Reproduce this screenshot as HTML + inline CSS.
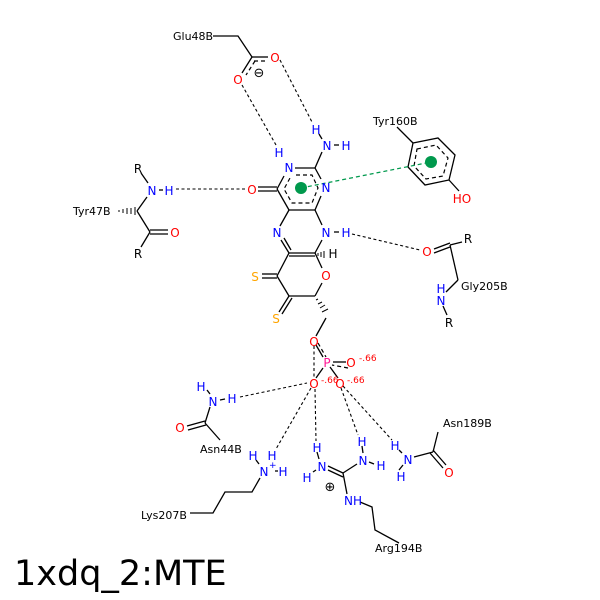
<!DOCTYPE html>
<html><head><meta charset="utf-8"><style>body{margin:0;background:#fff}svg{display:block}</style></head><body>
<svg width="600" height="600" viewBox="0 0 600 600" xmlns="http://www.w3.org/2000/svg" font-family="DejaVu Sans, Liberation Sans, sans-serif">
<rect width="600" height="600" fill="#fff"/>
<g stroke="#000" stroke-width="1.3" fill="none">
<line x1="277" y1="189" x2="284" y2="176"/>
<line x1="295" y1="168" x2="315" y2="168"/>
<line x1="315" y1="168" x2="321" y2="179"/>
<line x1="321" y1="196" x2="315" y2="210"/>
<line x1="289" y1="210" x2="315" y2="210"/>
<line x1="277" y1="189" x2="289" y2="210"/>
<line x1="258" y1="187" x2="277" y2="187"/><line x1="258" y1="191" x2="277" y2="191"/>
<line x1="315" y1="168" x2="322" y2="152"/>
<line x1="289" y1="210" x2="280" y2="226"/>
<line x1="315" y1="210" x2="322" y2="225"/>
<line x1="281" y1="240" x2="289" y2="253"/><line x1="284" y1="238" x2="291" y2="250"/>
<line x1="322" y1="240" x2="315" y2="253"/>
<line x1="289" y1="253" x2="315" y2="253"/><line x1="289" y1="256" x2="315" y2="256"/>
<line x1="289" y1="253" x2="277" y2="276"/>
<line x1="315" y1="253" x2="322" y2="268"/>
<line x1="262" y1="274" x2="277" y2="274"/><line x1="262" y1="278" x2="277" y2="278"/>
<line x1="277" y1="276" x2="289" y2="296"/>
<line x1="322" y1="283" x2="315" y2="296"/>
<line x1="289" y1="296" x2="315" y2="296"/>
<line x1="289" y1="296" x2="279" y2="312"/><line x1="292" y1="298" x2="282" y2="314"/>
<line x1="326" y1="318" x2="316" y2="336"/>
<line x1="316" y1="345" x2="323" y2="357"/>
<line x1="333" y1="362" x2="346" y2="362"/>
<line x1="323" y1="368" x2="316" y2="378"/>
<line x1="330" y1="367" x2="338" y2="378"/>
<line x1="334" y1="145" x2="339" y2="145"/>
<line x1="319" y1="134" x2="322" y2="139"/>
<line x1="334" y1="232" x2="339" y2="232"/>
<line x1="159" y1="190" x2="163" y2="190"/>
<line x1="220" y1="400" x2="225" y2="399"/>
<line x1="369" y1="462" x2="374" y2="464"/>
<line x1="313" y1="472" x2="316" y2="470"/>
<line x1="399" y1="450" x2="402" y2="453"/>
<line x1="207" y1="390" x2="210" y2="394"/>
<line x1="256" y1="460" x2="259" y2="464"/>
<line x1="275" y1="471" x2="278" y2="471"/>
<line x1="317" y1="452" x2="319" y2="459"/>
<line x1="362" y1="446" x2="363" y2="453"/>
<line x1="399" y1="470" x2="403" y2="465"/>
<line x1="397" y1="127" x2="413" y2="143"/>
<polygon points="413,143 438,138 455,155 449,180 425,185 408,167"/>
<line x1="449" y1="180" x2="459" y2="191"/>
<line x1="434" y1="249" x2="450" y2="243"/><line x1="434" y1="253" x2="450" y2="247"/>
<line x1="450" y1="245" x2="462" y2="242"/>
<line x1="450" y1="245" x2="458" y2="280"/>
<line x1="458" y1="280" x2="446" y2="292"/>
<line x1="443" y1="306" x2="447" y2="315"/>
<line x1="141" y1="173" x2="148" y2="183"/>
<line x1="147" y1="197" x2="137" y2="211"/>
<line x1="137" y1="211" x2="150" y2="232"/>
<line x1="150" y1="230" x2="168" y2="230"/><line x1="150" y1="234" x2="168" y2="234"/>
<line x1="150" y1="232" x2="141" y2="247"/>
<polyline points="213,36 238,36 252,57"/>
<line x1="252" y1="57" x2="268" y2="57"/>
<line x1="252" y1="57" x2="242" y2="73"/>
<line x1="210" y1="407" x2="205" y2="423"/>
<line x1="187" y1="426" x2="205" y2="421"/><line x1="188" y1="430" x2="206" y2="425"/>
<line x1="205" y1="423" x2="220" y2="440"/>
<polyline points="260,478 252,492 225,492 213,513 190,513"/>
<line x1="328" y1="466" x2="343" y2="473"/><line x1="328" y1="470" x2="343" y2="477"/>
<line x1="343" y1="473" x2="357" y2="464"/>
<line x1="343" y1="473" x2="347" y2="494"/>
<polyline points="360,502 372,507 375,530 399,543"/>
<line x1="414" y1="457" x2="433" y2="452"/>
<line x1="433" y1="452" x2="438" y2="432"/>
<line x1="433" y1="450" x2="446" y2="465"/><line x1="430" y1="453" x2="443" y2="468"/>
</g>
<g stroke="#000" stroke-width="1">
<line x1="318" y1="253" x2="318" y2="256"/><line x1="321" y1="252" x2="321" y2="257"/><line x1="324" y1="251" x2="324" y2="258"/>
<line x1="316" y1="300" x2="318" y2="299"/><line x1="318" y1="304" x2="322" y2="302"/><line x1="320" y1="308" x2="325" y2="305"/><line x1="322" y1="312" x2="328" y2="309"/>
<line x1="119" y1="210" x2="119" y2="212"/><line x1="123" y1="209" x2="123" y2="213"/><line x1="127" y1="208" x2="127" y2="214"/><line x1="131" y1="208" x2="131" y2="214"/><line x1="135" y1="207" x2="135" y2="215"/>
</g>
<g stroke="#000" stroke-width="1.2" fill="none" stroke-dasharray="4,3">
<polyline points="296,175 312,175 318,188 312,203 292,203 284,189 290,178"/>
<polygon points="417,149 436,145 448,158 443,176 426,179 414,166"/>
<line x1="254" y1="61" x2="268" y2="61"/>
<line x1="255" y1="61" x2="246" y2="75"/>
<line x1="318" y1="343" x2="326" y2="357"/>
<line x1="348" y1="368" x2="332" y2="365"/>
</g>
<g stroke="#000" stroke-width="1.1" fill="none" stroke-dasharray="3,2.5">
<line x1="242" y1="85" x2="276" y2="145"/>
<line x1="280" y1="60" x2="312" y2="122"/>
<line x1="176" y1="189" x2="245" y2="189"/>
<line x1="352" y1="234" x2="420" y2="250"/>
<line x1="240" y1="397" x2="307" y2="383"/>
<line x1="311" y1="388" x2="276" y2="449"/>
<line x1="315" y1="389" x2="316" y2="441"/>
<line x1="341" y1="388" x2="358" y2="435"/>
<line x1="343" y1="386" x2="392" y2="440"/>
<line x1="314" y1="346" x2="314" y2="377"/>
</g>
<line x1="301" y1="188" x2="431" y2="162" stroke="#00994d" stroke-width="1.2" stroke-dasharray="4,3"/>
<circle cx="301" cy="188" r="6" fill="#00994d"/>
<circle cx="431" cy="162" r="6" fill="#00994d"/>
<g font-size="12" text-anchor="middle">
<g fill="#0000ff">
<text x="289" y="172">N</text><text x="279" y="157">H</text>
<text x="327" y="150">N</text><text x="346" y="150">H</text><text x="316" y="134">H</text>
<text x="326" y="192">N</text>
<text x="277" y="237">N</text><text x="326" y="237">N</text><text x="346" y="237">H</text>
<text x="152" y="195">N</text><text x="169" y="195">H</text>
<text x="441" y="293">H</text><text x="441" y="305">N</text>
<text x="201" y="391">H</text><text x="213" y="406">N</text><text x="232" y="403">H</text>
<text x="253" y="460">H</text><text x="272" y="460">H</text><text x="264" y="476">N</text><text x="283" y="476">H</text>
<text x="317" y="452">H</text><text x="322" y="471">N</text><text x="307" y="482">H</text>
<text x="363" y="465">N</text><text x="362" y="446">H</text><text x="381" y="470">H</text>
<text x="353" y="505">NH</text>
<text x="395" y="450">H</text><text x="408" y="464">N</text><text x="401" y="481">H</text>
</g>
<g fill="#ff0000">
<text x="252" y="194">O</text><text x="326" y="280">O</text>
<text x="275" y="62">O</text><text x="238" y="84">O</text>
<text x="175" y="237">O</text><text x="427" y="256">O</text>
<text x="462" y="203">HO</text>
<text x="314" y="346">O</text><text x="351" y="367">O</text><text x="314" y="388">O</text><text x="340" y="388">O</text>
<text x="180" y="432">O</text><text x="449" y="477">O</text>
</g>
<text x="327" y="367" fill="#ff1493">P</text>
<g fill="#ffa500"><text x="255" y="281">S</text><text x="276" y="323">S</text></g>
<g fill="#000">
<text x="333" y="258">H</text>
<text x="138" y="173">R</text><text x="138" y="258">R</text>
<text x="468" y="243">R</text><text x="449" y="327">R</text>
</g>
</g>
<g font-size="9" fill="#ff0000"><text x="359" y="361">-.66</text><text x="321" y="383">-.66</text><text x="347" y="383">-.66</text></g>
<text x="330" y="491" font-size="13" text-anchor="middle">⊕</text>
<text x="259" y="77" font-size="13" text-anchor="middle">⊖</text>
<text x="269" y="468" font-size="9" fill="#0000ff">+</text>
<g font-size="11" fill="#000">
<text x="173" y="40">Glu48B</text>
<text x="73" y="215">Tyr47B</text>
<text x="373" y="125">Tyr160B</text>
<text x="461" y="290">Gly205B</text>
<text x="200" y="453">Asn44B</text>
<text x="443" y="427">Asn189B</text>
<text x="141" y="519">Lys207B</text>
<text x="375" y="552">Arg194B</text>
</g>
<text x="14" y="585" font-size="35" fill="#000">1xdq_2:MTE</text>
</svg>
</body></html>
